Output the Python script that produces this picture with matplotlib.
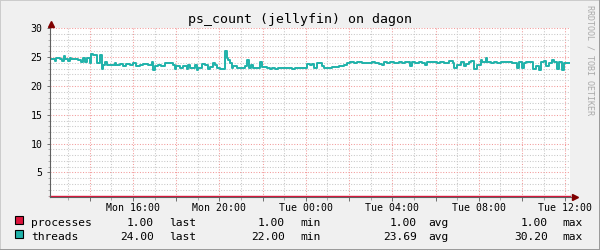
import matplotlib
matplotlib.use('Agg')
import matplotlib.pyplot as plt
from matplotlib.lines import Line2D
from matplotlib.patches import Rectangle

# threads: minutes after Mon 12:10, each value held until the next entry
threads_t = [0, 13, 18, 27, 32, 39, 43, 50, 55, 59, 69, 78, 87, 92, 96, 104,
             110, 113, 119, 124, 131, 138, 143, 147, 152, 157, 166, 180, 184,
             194, 203, 212, 221, 231, 240, 249, 258, 272, 282, 286, 291, 300,
             309, 318, 342, 346, 351,
             360, 370, 379, 384, 389, 402, 407, 412, 421, 430, 439, 444, 453,
             458, 463, 472, 486, 490, 495, 500, 504, 509, 518, 532, 541, 546,
             551, 557, 564, 583, 588, 601, 611, 615, 625, 634, 643, 657, 671,
             680, 694, 708, 712, 722,
             727, 732, 741, 755, 759, 782, 801, 815, 824, 833, 843, 852, 866,
             875, 894, 903, 912, 921, 926, 935, 944, 954, 968, 977, 986, 1000,
             1005, 1014, 1023, 1032, 1042, 1046, 1065, 1074, 1083,
             1093, 1107, 1117, 1121, 1130, 1140, 1149, 1154, 1163, 1167, 1177,
             1186, 1195, 1200, 1209, 1214, 1223, 1232, 1241, 1251, 1278, 1283,
             1297, 1302, 1311, 1315, 1320, 1329, 1339, 1348, 1357, 1362, 1371,
             1376, 1385, 1394, 1399, 1408, 1413, 1417, 1422, 1426]
threads_v = [24.7, 24.4, 24.9, 24.6, 24.4, 25.2, 24.6, 24.4, 24.8, 24.6, 24.7,
             24.5, 24.2, 24.8, 24.2, 24.8, 23.9, 25.5, 25.3, 25.4, 23.9, 25.3,
             22.9, 23.6, 24.2, 23.6, 23.7, 23.9, 23.7, 23.8, 23.5, 23.8, 23.6,
             23.9, 23.4, 23.6, 23.8, 23.7, 24.1, 22.7, 23.5, 23.7, 23.5, 23.9,
             23.7, 23.0, 23.4,
             23.2, 23.4, 23.0, 23.6, 23.2, 23.6, 22.8, 23.2, 23.8, 23.6, 23.0,
             23.3, 24.0, 23.7, 23.1, 23.0, 26.0, 24.9, 24.5, 24.0, 23.1, 23.4,
             23.1, 23.2, 23.4, 24.5, 23.2, 23.6, 23.2, 24.1, 23.3, 23.2, 23.0,
             23.2, 23.0, 23.2, 23.1, 23.2, 23.0, 23.2, 23.1, 23.2, 23.8, 23.6,
             23.8, 23.2, 24.0, 23.4, 23.2, 23.3, 23.5, 23.7, 23.9, 24.1, 24.0,
             24.1, 23.9, 24.0, 24.1, 23.9, 23.8, 23.6, 24.1, 24.0, 24.1, 24.0,
             24.1, 24.0, 24.1, 23.4, 24.1, 24.0, 24.1, 23.9, 23.7, 24.1, 24.2,
             24.0, 24.1,
             23.9, 24.4, 24.0, 23.2, 23.7, 24.2, 23.4, 23.8, 24.2, 24.4, 23.0,
             23.6, 24.5, 24.2, 24.8, 24.1, 24.0, 24.1, 24.0, 24.1, 24.2, 24.0,
             23.1, 24.1, 23.1, 24.0, 24.2, 24.1, 23.0, 23.4, 22.8, 24.2, 24.4,
             23.4, 24.0, 24.5, 24.1, 23.0, 24.2, 24.1, 22.8, 24.0]
processes_t = [0, 1443]
processes_v = [1.0, 1.0]
t_end = 1443

title = 'ps_count (jellyfin) on dagon'
xtick_pos = [110, 230, 350, 470, 590, 710, 830, 950, 1070, 1190, 1310, 1430]
xtick_lab = ['', 'Mon 16:00', '', 'Mon 20:00', '', 'Tue 00:00', '',
             'Tue 04:00', '', 'Tue 08:00', '', 'Tue 12:00']
xminor_pos = list(range(50, t_end, 60))
ytick_pos = [5, 10, 15, 20, 25, 30]
yminor_pos = list(range(1, 31))

series_names = ['processes', 'threads']
series_colors = ['#DC143C', '#20B2AA']
stat_last = ['1.00', '24.00']
stat_min = ['1.00', '22.00']
stat_avg = ['1.00', '23.69']
stat_max = ['1.00', '30.20']

W, H = 600, 250
mono = 'DejaVu Sans Mono'


def px(x, y):
    return x / W, 1 - y / H


fig = plt.figure(figsize=(6, 2.5), dpi=100, facecolor='#F0F0F0')
ax = fig.add_axes([50 / W, 1 - 196.7 / H, 520 / W, 168.4 / H])
ax.set_facecolor('white')

ax.step(threads_t + [t_end], threads_v + [threads_v[-1]], where='post',
        color=series_colors[1], lw=1.4, zorder=3)
ax.plot(processes_t, processes_v, color=series_colors[0], lw=1.0, zorder=4,
        clip_on=False)

ax.set_xlim(0, t_end)
ax.set_ylim(0.8, 30)
ax.set_xticks(xtick_pos)
ax.set_xticklabels(xtick_lab)
ax.set_xticks(xminor_pos, minor=True)
ax.set_yticks(ytick_pos)
ax.set_yticks(yminor_pos, minor=True)

ax.set_axisbelow(True)
ax.grid(which='minor', color='#C8C8C8', linestyle=(0, (1, 1.6)), lw=0.75)
ax.grid(which='major', color='#F29A9A', linestyle=(0, (1, 1.6)), lw=0.75)

for s in ax.spines.values():
    s.set_visible(False)
ax.tick_params(which='both', color='#707070', width=0.7, labelsize=7.1)
ax.tick_params(axis='x', which='major', length=3, pad=1.5)
ax.tick_params(axis='x', which='minor', length=2, color='#A8A8A8')
ax.tick_params(axis='y', which='major', length=2, pad=3.4)
ax.tick_params(axis='y', which='minor', length=1.4, color='#B0B0B0')
for lab in ax.get_xticklabels() + ax.get_yticklabels():
    lab.set_family(mono)

# axis lines with rrdtool style arrows
ax.add_line(Line2D([0, 0], [0, 1.03], transform=ax.transAxes, color='#606060',
                   lw=0.8, clip_on=False, zorder=5))
ax.add_line(Line2D([0, 1.006], [0, 0], transform=ax.transAxes, color='#606060',
                   lw=0.8, clip_on=False, zorder=5))
ax.plot([0.0015], [1.027], marker='^', ms=4.5, color='#800000',
        transform=ax.transAxes, clip_on=False, zorder=6)
ax.plot([1.0087], [0], marker='>', ms=4.5, color='#800000',
        transform=ax.transAxes, clip_on=False, zorder=6)

fig.text(*px(300, 20), title, ha='center', va='center', fontsize=9.5,
         family=mono)
fig.text(*px(590, 60), 'RRDTOOL / TOBI OETIKER', rotation=270, ha='center',
         va='center', fontsize=6, color='#AAAAAA', family=mono)

# legend rows
row_base = [225.5, 239.5]
for i in range(2):
    y = row_base[i]
    fig.add_artist(Rectangle(px(15, y - 1.5), 7.7 / W, 8 / H,
                             transform=fig.transFigure, facecolor=series_colors[i],
                             edgecolor='black', lw=0.8))
    fig.text(*px(31, y), series_names[i], fontsize=8.1, family=mono, va='baseline')
    cols = [(stat_last[i], 154, 'last', 169), (stat_min[i], 285, 'min', 300),
            (stat_avg[i], 417, 'avg', 428), (stat_max[i], 548, 'max', 562)]
    for val, xr, name, xl in cols:
        fig.text(*px(xr, y), val, fontsize=8.1, family=mono, ha='right',
                 va='baseline')
        fig.text(*px(xl, y), name, fontsize=8.1, family=mono, va='baseline')

# frame shading
fig.add_artist(Line2D([0, 0, 1], [0, 1, 1], transform=fig.transFigure,
                      color='#CBCBCB', lw=1.4))
fig.add_artist(Line2D([0, 1, 1], [0, 0, 1], transform=fig.transFigure,
                      color='#999999', lw=1.4))

fig.savefig('out.png', dpi=100, facecolor=fig.get_facecolor())
